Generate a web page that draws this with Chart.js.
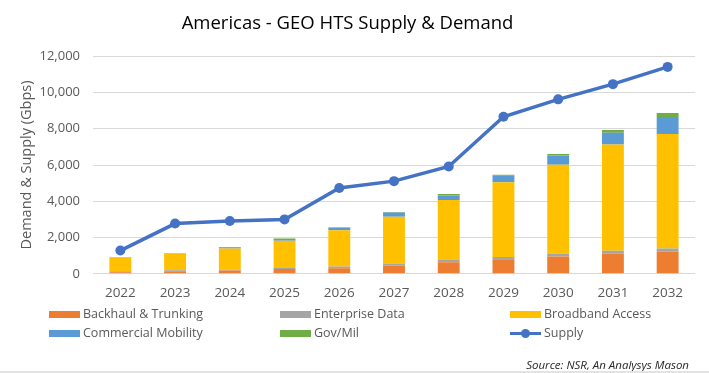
<!DOCTYPE html>
<html>
<head>
<meta charset="utf-8">
<script src="https://cdn.jsdelivr.net/npm/chart.js@4/dist/chart.umd.min.js"></script>
<style>
    body { margin: 0; background: #fff; }
    #wrap { position: relative; width: 709px; height: 373px; font-family: "Open Sans", sans-serif; }
    #legend { position: absolute; left: 0; top: 0; width: 709px; height: 373px; pointer-events: none; }
    .item { position: absolute; font-size: 12.5px; color: #595959; line-height: 16px; white-space: nowrap; }
    .item .box { position: absolute; left: -34px; top: 5px; width: 31px; height: 7px; }
    .item .line { position: absolute; left: -34px; top: 7px; width: 31px; height: 3px; }
    .item .dot { position: absolute; left: -23px; top: 4px; width: 9px; height: 9px; border-radius: 50%; }
    #source { position: absolute; right: 20px; top: 357px; font-size: 11.5px; font-style: italic; color: #262626; }
    #bottomline { position: absolute; left: 0; top: 371px; width: 709px; height: 2px; background: #e3e3e3; }
</style>
</head>
<body>
<div id="wrap">
    <canvas id="geoChart" width="709" height="373"></canvas>
    <div id="legend"></div>
    <div id="source">Source: NSR, An Analysys Mason</div>
    <div id="bottomline"></div>
</div>
<script>
// Datos (Gbps)
const years = ['2022', '2023', '2024', '2025', '2026', '2027', '2028', '2029', '2030', '2031', '2032'];
const backhaul = [90, 145, 180, 260, 310, 455, 640, 800, 950, 1100, 1210];
const enterprise = [50, 55, 55, 60, 90, 110, 145, 130, 165, 165, 180];
const broadband = [770, 920, 1155, 1500, 2000, 2585, 3285, 4125, 4895, 5860, 6320];
const mobility = [15, 20, 70, 100, 140, 230, 250, 350, 510, 660, 940];
const govMil = [5, 10, 20, 20, 30, 30, 80, 60, 80, 145, 220];
const supply = [1280, 2770, 2910, 3000, 4730, 5110, 5920, 8660, 9620, 10460, 11410];
const yTicks = [0, 2000, 4000, 6000, 8000, 10000, 12000];

document.addEventListener("DOMContentLoaded", function () {
    const ctx = document.getElementById('geoChart').getContext('2d');

    const barSeries = [
        { label: 'Backhaul & Trunking', data: backhaul, color: '#ED7D31' },
        { label: 'Enterprise Data', data: enterprise, color: '#A5A5A5' },
        { label: 'Broadband Access', data: broadband, color: '#FFC000' },
        { label: 'Commercial Mobility', data: mobility, color: '#5B9BD5' },
        { label: 'Gov/Mil', data: govMil, color: '#70AD47' }
    ];

    const datasets = barSeries.map(s => {
        return {
            type: 'bar',
            label: s.label,
            data: s.data,
            backgroundColor: s.color,
            borderWidth: 0,
            stack: 'demand',
            order: 1,
            categoryPercentage: 1,
            barPercentage: 0.4
        };
    });

    datasets.push({
        type: 'line',
        label: 'Supply',
        data: supply,
        borderColor: '#4472C4',
        backgroundColor: '#4472C4',
        borderWidth: 3.5,
        pointRadius: 5,
        pointBorderWidth: 0,
        tension: 0,
        order: 0
    });

    new Chart(ctx, {
        type: 'bar',
        data: {
            labels: years,
            datasets: datasets
        },
        options: {
            responsive: false,
            animation: false,
            layout: {
                padding: { top: 0, right: 14, bottom: 61, left: 0 }
            },
            plugins: {
                legend: { display: false },
                tooltip: { enabled: false },
                title: {
                    display: true,
                    text: 'Americas - GEO HTS Supply & Demand',
                    color: '#000000',
                    font: { family: 'Open Sans', size: 18.5, weight: 'normal' },
                    padding: { top: 13, bottom: 21 }
                }
            },
            scales: {
                x: {
                    stacked: true,
                    grid: { display: false, drawTicks: false },
                    border: { display: false },
                    ticks: {
                        color: '#595959',
                        font: { family: 'Open Sans', size: 13.5 },
                        padding: 11
                    }
                },
                y: {
                    stacked: true,
                    min: 0,
                    max: 12000,
                    afterFit: function (axis) { axis.width = 93; },
                    afterBuildTicks: function (axis) {
                        axis.ticks = yTicks.map(v => ({ value: v }));
                    },
                    grid: { color: '#d9d9d9', lineWidth: 1, drawTicks: false },
                    border: { display: false },
                    ticks: {
                        color: '#595959',
                        font: { family: 'Open Sans', size: 13 },
                        padding: 13,
                        callback: function (value) { return value.toLocaleString('en-US'); }
                    },
                    title: {
                        display: true,
                        text: 'Demand & Supply (Gbps)',
                        color: '#595959',
                        font: { family: 'Open Sans', size: 14.5 },
                        padding: { top: 18, bottom: 0 }
                    }
                }
            }
        }
    });

    // Leyenda en tres columnas como en el original
    const legendItems = [
        { label: 'Backhaul & Trunking', color: '#ED7D31', x: 83, y: 306 },
        { label: 'Enterprise Data', color: '#A5A5A5', x: 314, y: 306 },
        { label: 'Broadband Access', color: '#FFC000', x: 544, y: 306 },
        { label: 'Commercial Mobility', color: '#5B9BD5', x: 83, y: 325 },
        { label: 'Gov/Mil', color: '#70AD47', x: 314, y: 325 },
        { label: 'Supply', color: '#4472C4', x: 544, y: 325, line: true }
    ];
    const legend = document.getElementById('legend');
    legendItems.forEach(item => {
        const div = document.createElement('div');
        div.className = 'item';
        div.style.left = item.x + 'px';
        div.style.top = item.y + 'px';
        if (item.line) {
            div.innerHTML = '<span class="line" style="background:' + item.color + '"></span>' +
                '<span class="dot" style="background:' + item.color + '"></span>';
        } else {
            div.innerHTML = '<span class="box" style="background:' + item.color + '"></span>';
        }
        div.appendChild(document.createTextNode(item.label));
        legend.appendChild(div);
    });
});
</script>
</body>
</html>
